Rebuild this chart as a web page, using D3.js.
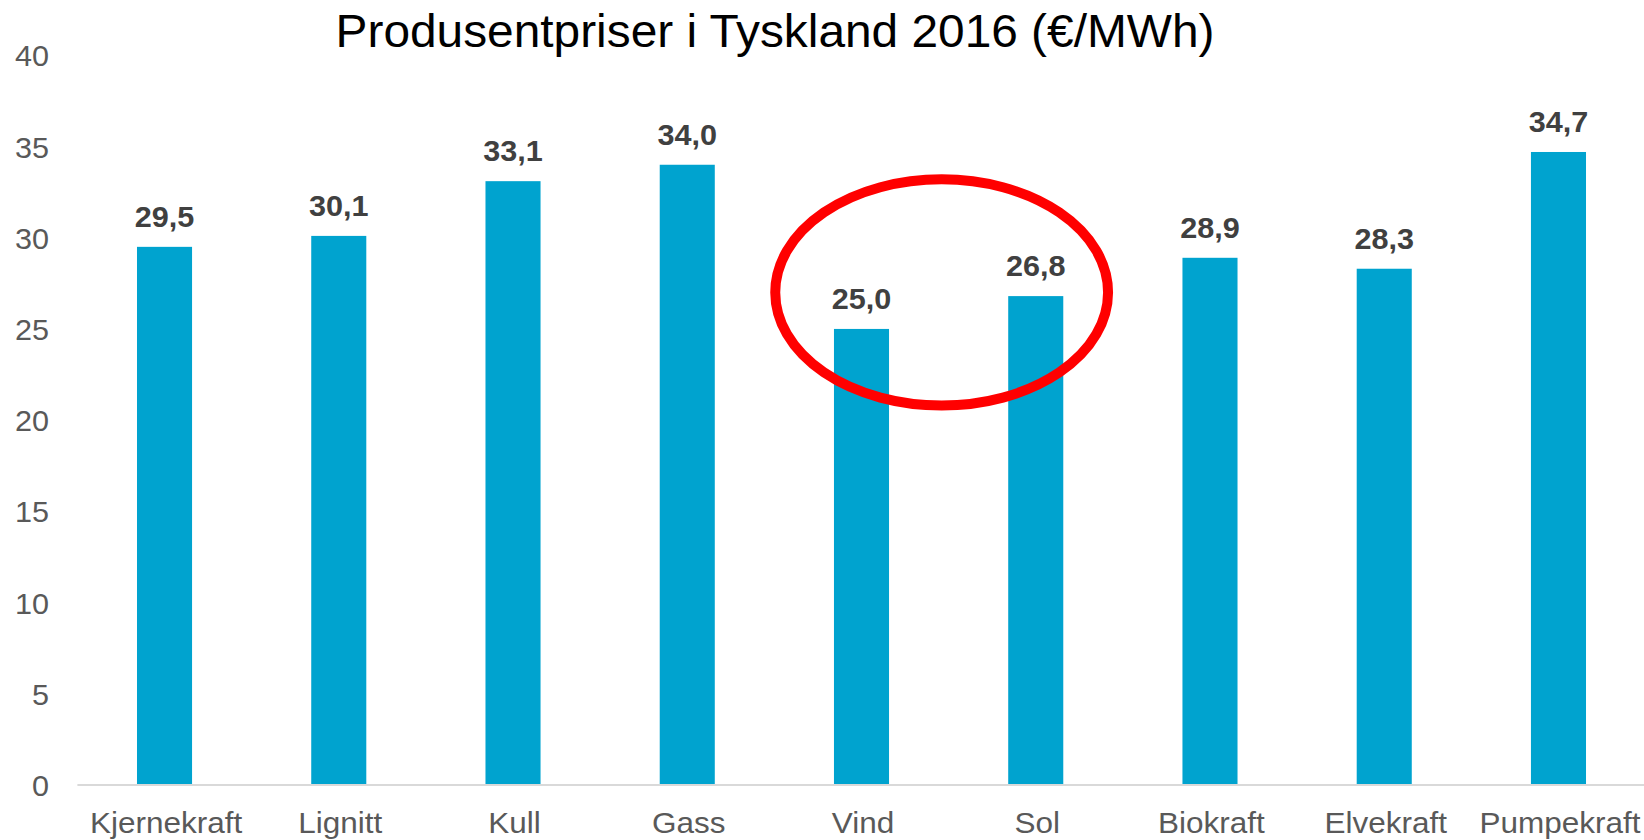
<!DOCTYPE html>
<html>
<head>
<meta charset="utf-8">
<script src="https://cdn.jsdelivr.net/npm/d3@7"></script>
<style>
  body { margin: 0; background: #fff; }
  text { font-family: "Liberation Sans", Arial, sans-serif; }
</style>
</head>
<body>
<div id="chart"></div>
<script>
// Data
let categories = ["Kjernekraft", "Lignitt", "Kull", "Gass", "Vind", "Sol", "Biokraft", "Elvekraft", "Pumpekraft"];
let prices = [29.5, 30.1, 33.1, 34.0, 25.0, 26.8, 28.9, 28.3, 34.7];
let yTicks = [0, 5, 10, 15, 20, 25, 30, 35, 40];
let titleText = "Produsentpriser i Tyskland 2016 (€/MWh)";
// red ring round Vind and Sol: centre in band index / value, radii in bands / value units
let ring = { index: 4.46, value: 27.0, rx: 0.955, ry: 6.2 };

let width = 1644;
let height = 840;
let svg = d3.select("#chart").append("svg")
  .attr("width", width)
  .attr("height", height);

let x = d3.scaleBand()
  .domain(categories)
  .range([77.4, 1645.6])
  .paddingInner(0.684)
  .paddingOuter(0.342);

let y = d3.scaleLinear()
  .domain([0, 40])
  .range([785, 55.3]);

let fmt = v => d3.format(".1f")(v).replace(".", ",");

// Title
svg.append("g")
  .attr("transform", "translate(775,47) scale(1.04,1)")
  .append("text")
  .attr("text-anchor", "middle")
  .attr("font-size", "46px")
  .attr("fill", "#000")
  .text(titleText);

// Y tick labels (no axis line, only labels)
svg.append("g").selectAll("g")
  .data(yTicks)
  .enter()
  .append("g")
  .attr("transform", d => `translate(49,${y(d) + 11}) scale(1.02,1)`)
  .append("text")
  .attr("text-anchor", "end")
  .attr("font-size", "30px")
  .attr("fill", "#595959")
  .text(d => d);

// Bars
svg.append("g").selectAll("rect")
  .data(prices)
  .enter()
  .append("rect")
  .attr("x", (d, i) => x(categories[i]))
  .attr("y", d => y(d))
  .attr("width", x.bandwidth())
  .attr("height", d => y(0) - y(d))
  .attr("fill", "#00a3cf");

// Base line
svg.append("line")
  .attr("x1", x.range()[0])
  .attr("x2", width)
  .attr("y1", y(0))
  .attr("y2", y(0))
  .attr("stroke", "#d9d9d9")
  .attr("stroke-width", 2);

// Value labels
svg.append("g").selectAll("g")
  .data(prices)
  .enter()
  .append("g")
  .attr("transform", (d, i) => `translate(${x(categories[i]) + x.bandwidth() / 2},${y(d) - 20}) scale(1.02,1)`)
  .append("text")
  .attr("text-anchor", "middle")
  .attr("font-size", "30px")
  .attr("font-weight", "bold")
  .attr("fill", "#404040")
  .text(d => fmt(d));

// Category labels
svg.append("g").selectAll("g")
  .data(categories)
  .enter()
  .append("g")
  .attr("transform", d => `translate(${x(d) + x.bandwidth() / 2 + 1.5},833) scale(1.05,1)`)
  .append("text")
  .attr("text-anchor", "middle")
  .attr("font-size", "30px")
  .attr("fill", "#595959")
  .text(d => d);

// Red ring annotation
let step = x.step();
let firstCenter = x(categories[0]) + x.bandwidth() / 2;
svg.append("ellipse")
  .attr("cx", firstCenter + ring.index * step)
  .attr("cy", y(ring.value))
  .attr("rx", ring.rx * step)
  .attr("ry", y(0) - y(ring.ry))
  .attr("fill", "none")
  .attr("stroke", "#ff0000")
  .attr("stroke-width", 10);
</script>
</body>
</html>
